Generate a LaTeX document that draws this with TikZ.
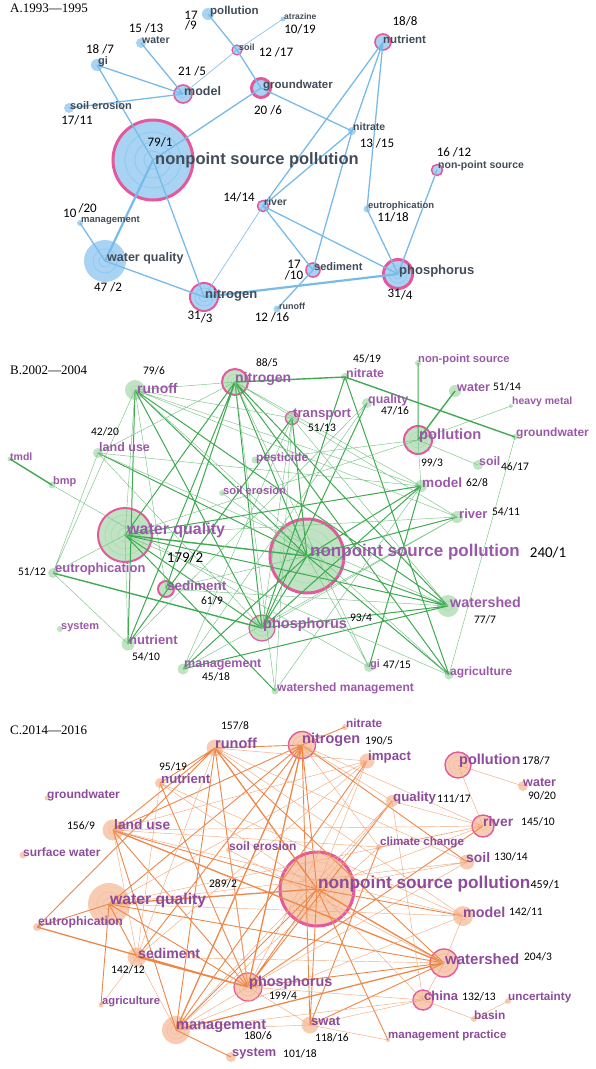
\documentclass[tikz,border=0pt]{standalone}
\usepackage{fontspec}
\setmainfont{Liberation Serif}
\setsansfont{Liberation Sans}
\newfontfamily\numfont{Carlito}
\definecolor{aline}{HTML}{78BBE8}
\definecolor{afill}{HTML}{A9D3F3}
\definecolor{ain}{HTML}{92C8EF}
\definecolor{atext}{HTML}{414C58}
\definecolor{bline}{HTML}{3FAA52}
\definecolor{bfill}{HTML}{C0E3C3}
\definecolor{bin}{HTML}{ADD9B1}
\definecolor{btext}{HTML}{9A58A8}
\definecolor{cline}{HTML}{EE8648}
\definecolor{cfill}{HTML}{F7CCB3}
\definecolor{cin}{HTML}{F2BEA1}
\definecolor{ctext}{HTML}{8C4B9B}
\definecolor{hotpink}{HTML}{E4589C}

\begin{document}
\begin{tikzpicture}[x=1pt, y=-1pt,
    kw/.style={circle, inner sep=0pt, minimum size=#1pt},
    akw/.style={kw=#1, fill=afill},
    bkw/.style={kw=#1, fill=bfill},
    ckw/.style={kw=#1, fill=cfill},
    hot/.style={draw=hotpink, line width=#1pt},
    alab/.style={anchor=west, inner sep=0pt, text=atext, font=\sffamily\bfseries\fontsize{#1}{#1}\selectfont},
    blab/.style={anchor=west, inner sep=0pt, text=btext, font=\sffamily\bfseries\fontsize{#1}{#1}\selectfont},
    clab/.style={anchor=west, inner sep=0pt, text=ctext, font=\sffamily\bfseries\fontsize{#1}{#1}\selectfont},
    num/.style={inner sep=0pt, align=center, font=\numfont\fontsize{#1}{#1}\selectfont},
    title/.style={anchor=west, inner sep=0pt, font=\rmfamily\fontsize{13}{13}\selectfont},
    al/.style={draw=aline, line width=#1pt},
    bl/.style={draw=bline, line width=#1pt},
    bt/.style={draw=bline!70, line width=0.45pt},
    cl/.style={draw=cline, line width=#1pt},
    ct/.style={draw=cline!70, line width=0.45pt},
  ]
\useasboundingbox (0,0) rectangle (596,1069);

\node[title] (ta) at (10,8) {A.1993—1995};
\node[title] (tb) at (10,370) {B.2002—2004};
\node[title] (tc) at (10,730) {C.2014—2016};

% A
\node[akw=80, hot=3] (a-npsp) at (153,160) {};
\node[akw=42] (a-wq) at (105,261) {};
\node[akw=28, hot=2] (a-nitro) at (204,297) {};
\node[akw=29, hot=3] (a-phos) at (398,274) {};
\node[akw=19, hot=3] (a-gw) at (261,88) {};
\node[akw=18, hot=1.6] (a-model) at (183,94) {};
\node[akw=16, hot=1.6] (a-nutr) at (383,42) {};
\node[akw=12] (a-gi) at (97,65) {};
\node[akw=10] (a-water) at (141,43) {};
\node[akw=12] (a-poll) at (208,14) {};
\node[akw=10, hot=1.2] (a-soil) at (237,50) {};
\node[akw=5] (a-atra) at (283,19) {};
\node[akw=10] (a-erosion) at (69,108) {};
\node[akw=8] (a-nitrate) at (352,131) {};
\node[akw=11, hot=1.5] (a-nps) at (437,170) {};
\node[akw=11, hot=1.5] (a-river) at (263,206) {};
\node[akw=7] (a-eutro) at (367,209) {};
\node[akw=6] (a-mgmt) at (80,223) {};
\node[akw=14, hot=1.6] (a-sed) at (313,270) {};
\node[akw=7] (a-runoff) at (277,309) {};
\draw[ain, line width=0.8pt] (a-npsp.center) circle[radius=9] circle[radius=18] circle[radius=28]
  (a-wq.center) circle[radius=6] circle[radius=12] (a-nitro.center) circle[radius=5] circle[radius=9]
  (a-phos.center) circle[radius=5] circle[radius=9] (a-model.center) circle[radius=4];

\draw[al=2.2] (a-npsp.center) -- (a-wq.center) (a-nitro.center) -- (a-phos.center);
\draw[al=1.3] (a-npsp.center) -- (a-gw.center) (a-npsp.center) -- (a-gi.center) (a-npsp.center) -- (a-nitro.center)
  (a-wq.center) -- (a-nitro.center) (a-gi.center) -- (a-model.center) (a-water.center) -- (a-model.center)
  (a-erosion.center) -- (a-model.center) (a-poll.center) -- (a-soil.center) (a-soil.center) -- (a-gw.center)
  (a-gw.center) -- (a-nitrate.center) (a-nutr.center) -- (a-nitrate.center) (a-nutr.center) -- (a-river.center)
  (a-nutr.center) -- (a-eutro.center) (a-nitrate.center) -- (a-river.center) (a-nitrate.center) -- (a-sed.center)
  (a-river.center) -- (a-phos.center) (a-river.center) -- (a-sed.center) (a-sed.center) -- (a-runoff.center)
  (a-nps.center) -- (a-phos.center) (a-eutro.center) -- (a-phos.center) (a-mgmt.center) -- (a-wq.center);
\draw[al=0.6] (a-model.center) -- (a-soil.center) (a-soil.center) -- (a-atra.center) (a-river.center) -- (a-nitro.center);

\node[alab=16.5] (a-npsp-t) at (155,160) {nonpoint source pollution};
\node[alab=12.5] (a-wq-t) at (107,258) {water quality};
\node[alab=13] (a-nitro-t) at (205,295) {nitrogen};
\node[alab=13] (a-phos-t) at (399,271) {phosphorus};
\node[alab=11.5] (a-gw-t) at (263,86) {groundwater};
\node[alab=12.5] (a-model-t) at (184,91) {model};
\node[alab=11.5] (a-nutr-t) at (383,39) {nutrient};
\node[alab=11] (a-gi-t) at (98,62) {gi};
\node[alab=10.5] (a-water-t) at (142,40) {water};
\node[alab=11.5] (a-poll-t) at (210,12) {pollution};
\node[alab=9] (a-soil-t) at (239,47) {soil};
\node[alab=8.5] (a-atra-t) at (284,16) {atrazine};
\node[alab=11] (a-erosion-t) at (70,106) {soil erosion};
\node[alab=10.5] (a-nitrate-t) at (353,127) {nitrate};
\node[alab=10.5] (a-nps-t) at (438,166) {non-point source};
\node[alab=10.5] (a-river-t) at (264,202) {river};
\node[alab=9.5] (a-eutro-t) at (368,206) {eutrophication};
\node[alab=9.5] (a-mgmt-t) at (81,220) {management};
\node[alab=11] (a-sed-t) at (314,267) {sediment};
\node[alab=9] (a-runoff-t) at (279,306) {runoff};

\node[num=13] (a-n1) at (160,142) {79/1};
\node[num=13] (a-n2) at (108,287) {47 /2};
\node[num=13] (a-n3) at (200,317) {31\raisebox{-3pt}{/3}};
\node[num=13] (a-n4) at (400,295) {31\raisebox{-2pt}{/4}};
\node[num=13] (a-n5) at (192,71) {21 /5};
\node[num=13] (a-n6) at (268,110) {20 /6};
\node[num=13] (a-n7) at (100,49) {18 /7};
\node[num=13] (a-n8) at (405,21) {18/8};
\node[num=13] (a-n9) at (191,21) {17\\[-3pt]/9};
\node[num=13] (a-n10) at (294,270) {17\\[-2pt]/10};
\node[num=13] (a-n11) at (77,120) {17/11};
\node[num=13] (a-n12) at (454,152) {16 /12};
\node[num=13] (a-n13) at (146,28) {15 /13};
\node[num=13] (a-n14) at (239,197) {14/14};
\node[num=13] (a-n15) at (377,143) {13 /15};
\node[num=13] (a-n16) at (272,317) {12 /16};
\node[num=13] (a-n17) at (276,52) {12 /17};
\node[num=13] (a-n18) at (393,217) {11/18};
\node[num=13] (a-n19) at (300,29) {10/19};
\node[num=13] (a-n20) at (80,211) {10\,\raisebox{5pt}{/20}};

% B
\node[bkw=74, hot=3] (b-npsp) at (307,556) {};
\node[bkw=54, hot=2] (b-wq) at (125,535) {};
\node[bkw=28, hot=2] (b-poll) at (418,440) {};
\node[bkw=26, hot=1.2] (b-phos) at (262,628) {};
\node[bkw=26, hot=2] (b-nitro) at (235,382) {};
\node[bkw=20] (b-runoff) at (135,390) {};
\node[bkw=22] (b-watershed) at (448,606) {};
\node[bkw=12] (b-model) at (421,486) {};
\node[bkw=16, hot=2] (b-sed) at (166,589) {};
\node[bkw=13] (b-nutrient) at (128,644) {};
\node[bkw=12] (b-river) at (457,517) {};
\node[bkw=10] (b-eutro) at (53,573) {};
\node[bkw=13, hot=1.4] (b-transport) at (292,418) {};
\node[bkw=12] (b-water) at (455,391) {};
\node[bkw=10] (b-quality) at (367,403) {};
\node[bkw=10] (b-gi) at (369,667) {};
\node[bkw=10] (b-soil) at (478,465) {};
\node[bkw=11] (b-mgmt) at (183,669) {};
\node[bkw=8] (b-nitrate) at (345,377) {};
\node[bkw=10] (b-landuse) at (98,453) {};
\node[bkw=6] (b-nps) at (418,363) {};
\node[bkw=4] (b-heavy) at (511,406) {};
\node[bkw=6] (b-gw) at (515,437) {};
\node[bkw=5] (b-tmdl) at (10,459) {};
\node[bkw=7] (b-bmp) at (52,485) {};
\node[bkw=7] (b-pest) at (255,460) {};
\node[bkw=6] (b-erosion) at (222,493) {};
\node[bkw=6] (b-system) at (60,629) {};
\node[bkw=7] (b-wsm) at (275,691) {};
\node[bkw=9] (b-agri) at (449,675) {};
\draw[bin, line width=0.6pt] (b-npsp.center) circle[radius=9] circle[radius=18] circle[radius=27]
  (b-wq.center) circle[radius=7] circle[radius=14] circle[radius=20] (b-poll.center) circle[radius=4] circle[radius=8]
  (b-phos.center) circle[radius=4] circle[radius=8] (b-nitro.center) circle[radius=4] circle[radius=8]
  (b-runoff.center) circle[radius=4] (b-watershed.center) circle[radius=5];

\draw[bl=1.4] (b-nitro.center) -- (b-nitrate.center) (b-nitrate.center) -- (b-gw.center) (b-tmdl.center) -- (b-bmp.center)
  (b-wq.center) -- (b-npsp.center) (b-poll.center) -- (b-water.center) (b-eutro.center) -- (b-phos.center);
\draw[bl=1] (b-nitro.center) -- (b-wq.center) (b-nitro.center) -- (b-npsp.center) (b-nitro.center) -- (b-phos.center)
  (b-nitro.center) -- (b-watershed.center) (b-nitro.center) -- (b-nutrient.center) (b-nitro.center) -- (b-sed.center)
  (b-nitro.center) -- (b-agri.center) (b-runoff.center) -- (b-npsp.center) (b-runoff.center) -- (b-phos.center)
  (b-runoff.center) -- (b-watershed.center) (b-runoff.center) -- (b-nutrient.center) (b-wq.center) -- (b-watershed.center)
  (b-wq.center) -- (b-model.center) (b-wq.center) -- (b-phos.center) (b-npsp.center) -- (b-watershed.center)
  (b-npsp.center) -- (b-agri.center) (b-npsp.center) -- (b-river.center) (b-npsp.center) -- (b-model.center)
  (b-npsp.center) -- (b-mgmt.center) (b-npsp.center) -- (b-phos.center) (b-npsp.center) -- (b-transport.center)
  (b-phos.center) -- (b-watershed.center) (b-mgmt.center) -- (b-watershed.center) (b-nitrate.center) -- (b-phos.center)
  (b-nitrate.center) -- (b-agri.center) (b-quality.center) -- (b-phos.center) (b-gi.center) -- (b-model.center)
  (b-landuse.center) -- (b-npsp.center) (b-transport.center) -- (b-nutrient.center) (b-model.center) -- (b-phos.center)
  (b-wq.center) -- (b-wsm.center) (b-nps.center) -- (b-poll.center);
\draw[bt] (b-landuse.center) -- (b-eutro.center) (b-landuse.center) -- (b-nitro.center) (b-landuse.center) -- (b-phos.center)
  (b-landuse.center) -- (b-watershed.center) (b-landuse.center) -- (b-model.center) (b-bmp.center) -- (b-gi.center)
  (b-eutro.center) -- (b-nutrient.center) (b-eutro.center) -- (b-wq.center) (b-eutro.center) -- (b-runoff.center)
  (b-nutrient.center) -- (b-wq.center) (b-mgmt.center) -- (b-transport.center) (b-mgmt.center) -- (b-river.center)
  (b-wsm.center) -- (b-nitro.center) (b-wsm.center) -- (b-model.center) (b-gi.center) -- (b-npsp.center)
  (b-gi.center) -- (b-nitro.center) (b-agri.center) -- (b-gw.center) (b-agri.center) -- (b-runoff.center)
  (b-agri.center) -- (b-wq.center) (b-river.center) -- (b-runoff.center) (b-river.center) -- (b-phos.center)
  (b-river.center) -- (b-nitro.center) (b-river.center) -- (b-wq.center) (b-model.center) -- (b-runoff.center)
  (b-model.center) -- (b-poll.center) (b-model.center) -- (b-nitro.center) (b-poll.center) -- (b-heavy.center)
  (b-poll.center) -- (b-soil.center) (b-poll.center) -- (b-wq.center) (b-poll.center) -- (b-pest.center)
  (b-transport.center) -- (b-runoff.center) (b-transport.center) -- (b-phos.center) (b-quality.center) -- (b-nutrient.center)
  (b-erosion.center) -- (b-npsp.center) (b-sed.center) -- (b-npsp.center) (b-sed.center) -- (b-watershed.center)
  (b-watershed.center) -- (b-transport.center) (b-runoff.center) -- (b-nitro.center) (b-mgmt.center) -- (b-quality.center)
  (b-wq.center) -- (b-runoff.center) (b-sed.center) -- (b-runoff.center) (b-wsm.center) -- (b-transport.center);

\node[blab=17] (b-npsp-t) at (310,552) {nonpoint source pollution};
\node[blab=16] (b-wq-t) at (127,530) {water quality};
\node[blab=14.7] (b-poll-t) at (419,436) {pollution};
\node[blab=14.5] (b-phos-t) at (263,625) {phosphorus};
\node[blab=14] (b-nitro-t) at (235,379) {nitrogen};
\node[blab=14] (b-runoff-t) at (137,388) {runoff};
\node[blab=14.3] (b-watershed-t) at (450,602) {watershed};
\node[blab=13.6] (b-model-t) at (422,483) {model};
\node[blab=13.5] (b-sed-t) at (167,586) {sediment};
\node[blab=13] (b-nutrient-t) at (129,640) {nutrient};
\node[blab=13] (b-river-t) at (459,514) {river};
\node[blab=13] (b-eutro-t) at (55,569) {eutrophication};
\node[blab=13.2] (b-transport-t) at (293,415) {transport};
\node[blab=12.6] (b-water-t) at (457,387) {water};
\node[blab=12.4] (b-quality-t) at (368,400) {quality};
\node[blab=11] (b-gi-t) at (370,665) {gi};
\node[blab=12.3] (b-soil-t) at (479,461) {soil};
\node[blab=12.5] (b-mgmt-t) at (184,665) {management};
\node[blab=12.4] (b-nitrate-t) at (346,373) {nitrate};
\node[blab=12.5] (b-landuse-t) at (99,447) {land use};
\node[blab=11.2] (b-nps-t) at (418,360) {non-point source};
\node[blab=10.5] (b-heavy-t) at (512,402) {heavy metal};
\node[blab=12] (b-gw-t) at (516,433) {groundwater};
\node[blab=10.5] (b-tmdl-t) at (10,457) {tmdl};
\node[blab=11] (b-bmp-t) at (53,482) {bmp};
\node[blab=12] (b-pest-t) at (256,458) {pesticide};
\node[blab=11.2] (b-erosion-t) at (223,490) {soil erosion};
\node[blab=11] (b-system-t) at (61,627) {system};
\node[blab=12] (b-wsm-t) at (277,688) {watershed management};
\node[blab=12] (b-agri-t) at (450,672) {agriculture};

\node[num=15] (b-n1) at (548,553) {240/1};
\node[num=15] (b-n2) at (185,558) {179/2};
\node[num=11.5] (b-n3) at (432,463) {99/3};
\node[num=11.5] (b-n4) at (361,618) {93/4};
\node[num=11.5] (b-n5) at (267,363) {88/5};
\node[num=11.5] (b-n6) at (154,371) {79/6};
\node[num=11.5] (b-n7) at (485,620) {77/7};
\node[num=11.5] (b-n8) at (477,483) {62/8};
\node[num=11.5] (b-n9) at (212,601) {61/9};
\node[num=11.5] (b-n10) at (146,657) {54/10};
\node[num=11.5] (b-n11) at (506,512) {54/11};
\node[num=11.5] (b-n12) at (32,572) {51/12};
\node[num=11.5] (b-n13) at (322,428) {51/13};
\node[num=11.5] (b-n14) at (507,387) {51/14};
\node[num=11.5] (b-n15) at (397,665) {47/15};
\node[num=11.5] (b-n16) at (395,411) {47/16};
\node[num=11.5] (b-n17) at (515,467) {46/17};
\node[num=11.5] (b-n18) at (216,677) {45/18};
\node[num=11.5] (b-n19) at (367,359) {45/19};
\node[num=11.5] (b-n20) at (105,432) {42/20};

% C
\node[ckw=74, hot=3] (c-npsp) at (317,889) {};
\node[ckw=42] (c-wq) at (109,904) {};
\node[ckw=28, hot=1.4] (c-watershed) at (444,963) {};
\node[ckw=28, hot=1.2] (c-phos) at (248,987) {};
\node[ckw=27, hot=1.4] (c-nitro) at (302,745) {};
\node[ckw=28] (c-mgmt) at (176,1030) {};
\node[ckw=26, hot=1.4] (c-poll) at (458,765) {};
\node[ckw=17] (c-runoff) at (215,748) {};
\node[ckw=21] (c-landuse) at (113,830) {};
\node[ckw=22, hot=1.4] (c-river) at (483,826) {};
\node[ckw=20] (c-model) at (463,916) {};
\node[ckw=19] (c-sed) at (137,957) {};
\node[ckw=20, hot=1.4] (c-china) at (423,1000) {};
\node[ckw=15] (c-soil) at (467,862) {};
\node[ckw=17] (c-swat) at (310,1025) {};
\node[ckw=12] (c-quality) at (392,801) {};
\node[ckw=10] (c-system) at (231,1057) {};
\node[ckw=10] (c-nutrient) at (160,783) {};
\node[ckw=10] (c-water) at (523,786) {};
\node[ckw=15] (c-impact) at (367,761) {};
\node[ckw=6] (c-nitrate) at (345,727) {};
\node[ckw=6] (c-cc) at (379,847) {};
\node[ckw=6] (c-erosion) at (229,850) {};
\node[ckw=5] (c-gw) at (47,798) {};
\node[ckw=7] (c-sw) at (23,855) {};
\node[ckw=8] (c-eutro) at (37,927) {};
\node[ckw=5] (c-agri) at (101,1005) {};
\node[ckw=6] (c-uncert) at (508,1001) {};
\node[ckw=6] (c-basin) at (474,1019) {};
\node[ckw=4] (c-mprac) at (388,1040) {};
\draw[cin, line width=0.6pt] (c-npsp.center) circle[radius=9] circle[radius=18] circle[radius=27]
  (c-wq.center) circle[radius=6] circle[radius=12] (c-watershed.center) circle[radius=5] circle[radius=9]
  (c-phos.center) circle[radius=5] circle[radius=9] (c-nitro.center) circle[radius=5] circle[radius=9]
  (c-mgmt.center) circle[radius=5] circle[radius=9] (c-poll.center) circle[radius=5] circle[radius=9]
  (c-landuse.center) circle[radius=4] (c-river.center) circle[radius=4] (c-model.center) circle[radius=4]
  (c-sed.center) circle[radius=4] (c-china.center) circle[radius=4];

\draw[cl=1.3] (c-eutro.center) -- (c-phos.center) (c-sed.center) -- (c-phos.center) (c-wq.center) -- (c-npsp.center)
  (c-runoff.center) -- (c-npsp.center) (c-nitro.center) -- (c-phos.center) (c-nitro.center) -- (c-mgmt.center)
  (c-npsp.center) -- (c-watershed.center) (c-landuse.center) -- (c-watershed.center) (c-mgmt.center) -- (c-watershed.center);
\draw[cl=0.9] (c-runoff.center) -- (c-phos.center) (c-runoff.center) -- (c-nutrient.center) (c-runoff.center) -- (c-landuse.center)
  (c-runoff.center) -- (c-watershed.center) (c-runoff.center) -- (c-erosion.center) (c-runoff.center) -- (c-mgmt.center)
  (c-nitro.center) -- (c-npsp.center) (c-nitro.center) -- (c-wq.center) (c-nitro.center) -- (c-sed.center)
  (c-nitro.center) -- (c-landuse.center) (c-nitro.center) -- (c-soil.center) (c-nitro.center) -- (c-swat.center)
  (c-nitro.center) -- (c-runoff.center) (c-wq.center) -- (c-phos.center) (c-wq.center) -- (c-watershed.center)
  (c-wq.center) -- (c-sed.center) (c-wq.center) -- (c-agri.center) (c-eutro.center) -- (c-wq.center)
  (c-eutro.center) -- (c-runoff.center) (c-landuse.center) -- (c-npsp.center) (c-landuse.center) -- (c-phos.center)
  (c-landuse.center) -- (c-mgmt.center) (c-npsp.center) -- (c-model.center) (c-npsp.center) -- (c-swat.center)
  (c-npsp.center) -- (c-mprac.center) (c-npsp.center) -- (c-phos.center) (c-npsp.center) -- (c-mgmt.center)
  (c-phos.center) -- (c-watershed.center) (c-swat.center) -- (c-watershed.center) (c-impact.center) -- (c-mgmt.center)
  (c-mgmt.center) -- (c-system.center) (c-cc.center) -- (c-swat.center) (c-quality.center) -- (c-phos.center)
  (c-river.center) -- (c-phos.center) (c-nutrient.center) -- (c-phos.center) (c-nitro.center) -- (c-nitrate.center);
\draw[ct] (c-poll.center) -- (c-water.center) (c-poll.center) -- (c-river.center) (c-china.center) -- (c-basin.center)
  (c-basin.center) -- (c-uncert.center) (c-swat.center) -- (c-mprac.center) (c-npsp.center) -- (c-soil.center)
  (c-npsp.center) -- (c-river.center) (c-npsp.center) -- (c-china.center) (c-npsp.center) -- (c-impact.center)
  (c-npsp.center) -- (c-quality.center) (c-watershed.center) -- (c-china.center) (c-watershed.center) -- (c-model.center)
  (c-wq.center) -- (c-model.center) (c-wq.center) -- (c-impact.center) (c-wq.center) -- (c-soil.center)
  (c-landuse.center) -- (c-model.center) (c-landuse.center) -- (c-sed.center) (c-landuse.center) -- (c-cc.center)
  (c-landuse.center) -- (c-river.center) (c-quality.center) -- (c-river.center) (c-quality.center) -- (c-mgmt.center)
  (c-quality.center) -- (c-china.center) (c-impact.center) -- (c-phos.center) (c-impact.center) -- (c-runoff.center)
  (c-impact.center) -- (c-sed.center) (c-cc.center) -- (c-mgmt.center) (c-cc.center) -- (c-river.center)
  (c-swat.center) -- (c-china.center) (c-swat.center) -- (c-mgmt.center) (c-china.center) -- (c-mgmt.center)
  (c-china.center) -- (c-phos.center) (c-erosion.center) -- (c-phos.center) (c-erosion.center) -- (c-watershed.center)
  (c-nutrient.center) -- (c-sed.center) (c-nutrient.center) -- (c-npsp.center) (c-nutrient.center) -- (c-model.center)
  (c-sed.center) -- (c-runoff.center) (c-sed.center) -- (c-watershed.center) (c-sed.center) -- (c-mgmt.center)
  (c-runoff.center) -- (c-model.center) (c-runoff.center) -- (c-soil.center) (c-nitro.center) -- (c-river.center)
  (c-nitro.center) -- (c-quality.center) (c-nitro.center) -- (c-cc.center) (c-phos.center) -- (c-swat.center)
  (c-phos.center) -- (c-mgmt.center) (c-wq.center) -- (c-river.center) (c-phos.center) -- (c-soil.center)
  (c-agri.center) -- (c-sed.center) (c-mgmt.center) -- (c-model.center) (c-impact.center) -- (c-landuse.center);

\node[clab=17.2] (c-npsp-t) at (318,884) {nonpoint source pollution};
\node[clab=15.7] (c-wq-t) at (110,900) {water quality};
\node[clab=15] (c-watershed-t) at (445,959) {watershed};
\node[clab=14.4] (c-phos-t) at (249,983) {phosphorus};
\node[clab=14.5] (c-nitro-t) at (302,740) {nitrogen};
\node[clab=14.6] (c-mgmt-t) at (176,1026) {management};
\node[clab=14.5] (c-poll-t) at (459,761) {pollution};
\node[clab=14.5] (c-runoff-t) at (215,743) {runoff};
\node[clab=13.8] (c-landuse-t) at (114,825) {land use};
\node[clab=13.8] (c-river-t) at (483,822) {river};
\node[clab=14.3] (c-model-t) at (463,912) {model};
\node[clab=14.1] (c-sed-t) at (138,953) {sediment};
\node[clab=13] (c-china-t) at (424,996) {china};
\node[clab=13.9] (c-soil-t) at (466,858) {soil};
\node[clab=13] (c-swat-t) at (311,1021) {swat};
\node[clab=13.3] (c-quality-t) at (393,798) {quality};
\node[clab=12.8] (c-system-t) at (232,1054) {system};
\node[clab=13.2] (c-nutrient-t) at (161,779) {nutrient};
\node[clab=12.6] (c-water-t) at (523,782) {water};
\node[clab=13.3] (c-impact-t) at (368,757) {impact};
\node[clab=11.8] (c-nitrate-t) at (346,723) {nitrate};
\node[clab=11.6] (c-cc-t) at (380,843) {climate change};
\node[clab=12] (c-erosion-t) at (229,846) {soil erosion};
\node[clab=12] (c-gw-t) at (47,795) {groundwater};
\node[clab=12] (c-sw-t) at (23,852) {surface water};
\node[clab=12.2] (c-eutro-t) at (38,922) {eutrophication};
\node[clab=11.2] (c-agri-t) at (102,1002) {agriculture};
\node[clab=11.7] (c-uncert-t) at (508,997) {uncertainty};
\node[clab=11.9] (c-basin-t) at (474,1015) {basin};
\node[clab=11.5] (c-mprac-t) at (388,1036) {management practice};

\node[num=12] (c-n1) at (545,885) {459/1};
\node[num=11.5] (c-n2) at (223,884) {289/2};
\node[num=11.5] (c-n3) at (538,957) {204/3};
\node[num=11.5] (c-n4) at (283,996) {199/4};
\node[num=11.5] (c-n5) at (379,741) {190/5};
\node[num=11.5] (c-n6) at (258,1036) {180/6};
\node[num=11.5] (c-n7) at (536,761) {178/7};
\node[num=11.5] (c-n8) at (235,726) {157/8};
\node[num=11.5] (c-n9) at (81,826) {156/9};
\node[num=11.5] (c-n10) at (538,822) {145/10};
\node[num=11.5] (c-n11) at (526,912) {142/11};
\node[num=11.5] (c-n12) at (128,970) {142/12};
\node[num=11.5] (c-n13) at (479,997) {132/13};
\node[num=11.5] (c-n14) at (511,857) {130/14};
\node[num=11.5] (c-n16) at (332,1038) {118/16};
\node[num=11.5] (c-n17) at (454,799) {111/17};
\node[num=11.5] (c-n18) at (300,1054) {101/18};
\node[num=11.5] (c-n19) at (173,767) {95/19};
\node[num=11.5] (c-n20) at (542,796) {90/20};
\end{tikzpicture}
\end{document}
